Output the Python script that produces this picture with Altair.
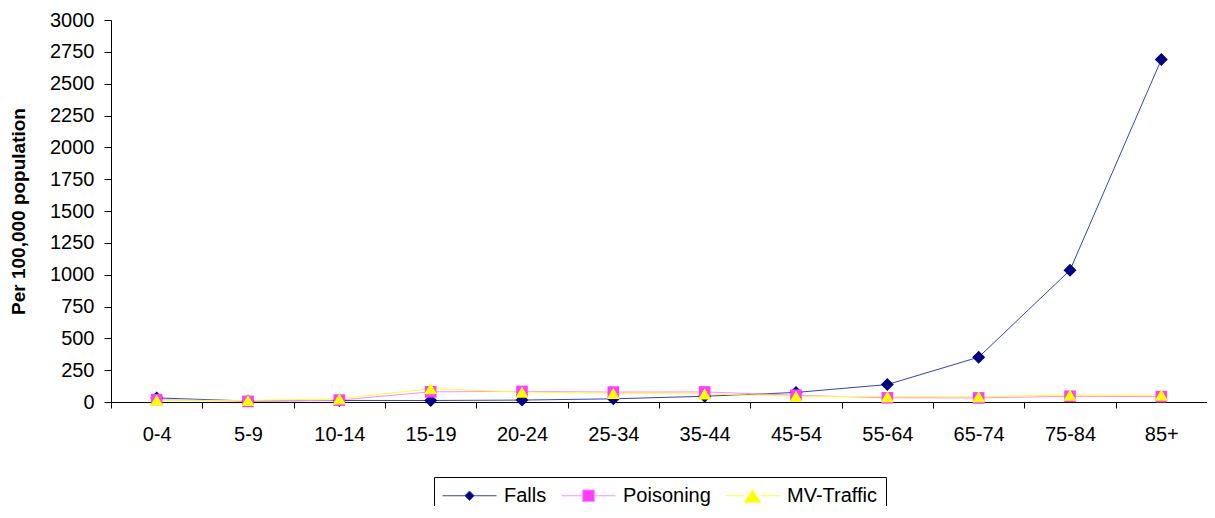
import altair as alt
import pandas as pd

ages = ["0-4", "5-9", "10-14", "15-19", "20-24", "25-34", "35-44",
        "45-54", "55-64", "65-74", "75-84", "85+"]
falls = [32, 8, 12, 12, 15, 25, 45, 75, 137, 352, 1035, 2690]
poisoning = [18, 5, 15, 80, 83, 78, 79, 53, 33, 32, 45, 42]
mv_traffic = [14, 12, 25, 105, 78, 68, 63, 45, 42, 42, 55, 55]

series_names = ["Falls", "Poisoning", "MV-Traffic"]
marker_colors = ["#000080", "#FF3CFF", "#FFFF00"]
line_colors = ["#3545B0", "#FF8CFF", "#FFFF30"]
marker_shapes = ["diamond", "square", "triangle-up"]
marker_sizes = [169, 135, 169]
legend_shapes = [
    "M-1,0L1.23,0M2.17,0L4.4,0M1.7,-0.47L2.17,0L1.7,0.47L1.23,0Z",
    "M-1,0L1.12,0M2.28,0L4.4,0M1.12,-0.58L2.28,-0.58L2.28,0.58L1.12,0.58Z",
    "M-1,0L0.9,0M2.5,0L4.4,0M1.7,-0.6L2.5,0.65L0.9,0.65Z",
]
y_ticks = list(range(0, 3001, 250))

rows = []
for name, vals in zip(series_names, [falls, poisoning, mv_traffic]):
    for a, v in zip(ages, vals):
        rows.append({"age": a, "series": name, "value": v})
df = pd.DataFrame(rows)

FONT = "Liberation Sans"
W, H = 1096, 382

x_enc = alt.X(
    "age:N", sort=ages,
    scale=alt.Scale(type="band", paddingInner=0, paddingOuter=0),
    axis=alt.Axis(title=None, labelAngle=0, tickBand="extent", tickSize=6,
                  labelPadding=16, labelFontSize=20, labelColor="black",
                  domainColor="black", tickColor="black", grid=False),
)
y_enc = alt.Y(
    "value:Q",
    scale=alt.Scale(domain=[0, 3000], nice=False),
    axis=alt.Axis(values=y_ticks, format="d", title="Per 100,000 population",
                  titleFontSize=19, titleFontWeight="bold", titleColor="black",
                  titlePadding=21, labelFontSize=20, labelColor="black",
                  labelPadding=10, tickSize=7, domainColor="black",
                  tickColor="black", grid=False),
)

base = alt.Chart(df)
layers = []
for name, lc in zip(series_names, line_colors):
    sub = base.transform_filter(alt.datum.series == name)
    layers.append(sub.mark_line(strokeWidth=1, color=lc).encode(x=x_enc, y=y_enc))
for name, mc, shp, sz in zip(series_names, marker_colors, marker_shapes, marker_sizes):
    sub = base.transform_filter(alt.datum.series == name)
    layers.append(sub.mark_point(filled=True, size=sz, shape=shp, color=mc,
                                 opacity=1).encode(x=x_enc, y=y_enc))

legend_layer = base.mark_point(opacity=0).encode(
    x=x_enc, y=y_enc,
    fill=alt.Fill("series:N", sort=series_names,
                  scale=alt.Scale(domain=series_names, range=marker_colors),
                  legend=alt.Legend(title=None)),
    stroke=alt.Stroke("series:N", sort=series_names,
                      scale=alt.Scale(domain=series_names, range=line_colors),
                      legend=alt.Legend(title=None)),
    shape=alt.Shape("series:N", sort=series_names,
                    scale=alt.Scale(domain=series_names, range=legend_shapes),
                    legend=alt.Legend(title=None)),
)
layers.append(legend_layer)

chart = alt.layer(*layers).properties(
    width=W, height=H,
    autosize=alt.AutoSizeParams(type="none"),
    padding={"left": 103, "top": 12, "right": 0, "bottom": 104},
    background="white",
).configure_view(stroke=None).configure_axis(
    labelFont=FONT, titleFont=FONT
).configure_legend(
    orient="none", legendX=323, legendY=457, direction="horizontal",
    labelFont=FONT, labelFontSize=20, labelColor="black",
    strokeColor="black", padding=8, columnPadding=12, labelOffset=41,
    symbolSize=400, symbolOpacity=1, symbolStrokeWidth=1,
)

chart.save("out.html", embed_options={"renderer": "svg", "actions": False})
